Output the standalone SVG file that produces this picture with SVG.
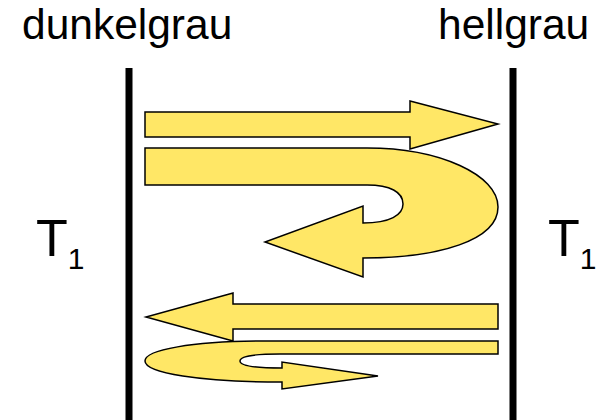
<svg xmlns="http://www.w3.org/2000/svg" width="606" height="420" viewBox="0 0 606 420">
<style>
.lbl{font-family:"Liberation Sans",Arial,sans-serif;fill:#000}
.wall{fill:#000}
.arrow{fill:#FFE766;stroke:#000;stroke-width:1.5;stroke-linejoin:miter}
</style>
<rect width="606" height="420" fill="#fff"/>
<g id="label-dunkelgrau"><text class="lbl" x="22" y="39" font-size="42.5">dunkelgrau</text></g>
<g id="label-hellgrau"><text class="lbl" x="438" y="39" font-size="42.5">hellgrau</text></g>
<g id="wall-left"><rect class="wall" x="125.5" y="68" width="7" height="352"/></g>
<g id="wall-right"><rect class="wall" x="509.5" y="68" width="7" height="352"/></g>
<g id="T1-left"><text class="lbl" x="36" y="256" font-size="52">T<tspan font-size="30" dy="13">1</tspan></text></g>
<g id="T1-right"><text class="lbl" x="548" y="256" font-size="52">T<tspan font-size="30" dy="13">1</tspan></text></g>
<g id="connectors">
<path id="arrow-right" class="arrow" d="M145,112 H410 V101 L498,124 L410,149 V137 H145 Z"/>
<path id="arrow-uturn" class="arrow" d="M145,148 H367 C440,148 498,175 498,207 C498,240 440,258 363,258 V277 L265,242 L363,206 V223 C390,223 403,215 403,204 C403,192 390,185 367,185 H145 Z"/>
<path id="arrow-left" class="arrow" d="M498,304 H233 V293 L146,317 L233,341 V329 H498 Z"/>
<path id="arrow-loop" class="arrow" d="M498,341 H270 C190,341 145,350 145,361 C145,373 200,382 282,382 V389 L378,376 L282,362 V368 C255,368 240,366 240,361 C240,356 255,354 280,354 H498 Z"/>
</g>
</svg>
